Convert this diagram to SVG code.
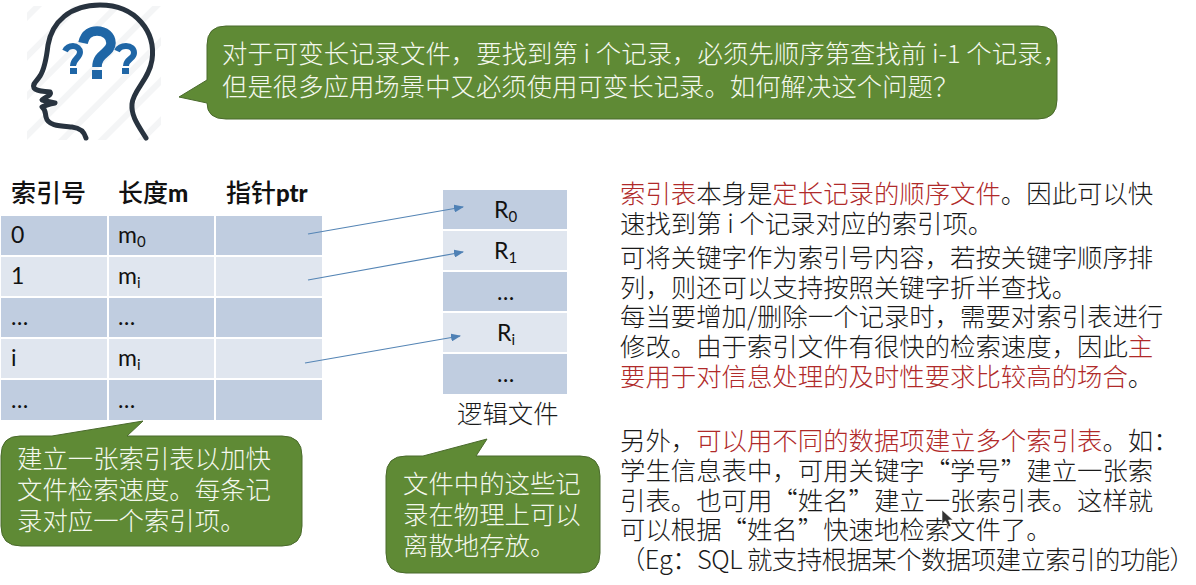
<svg xmlns="http://www.w3.org/2000/svg" width="1196" height="585" viewBox="0 0 1196 585">
<style>
text{font-family:"Noto Sans CJK SC","Liberation Sans",sans-serif;font-weight:300}
.b{fill:#5f8a35;stroke:#4a6a2c;stroke-width:1}
.w{fill:#f4f8ee;font-size:25.4px}
.t{fill:#1a1a1a;font-size:25.4px}
.r{fill:#b02a2a}
.h{fill:#111;font-size:25px;font-weight:500}
.hb{font-family:Lato,"Liberation Sans",sans-serif;font-weight:900;font-size:24px}
.c{font-family:Lato,"Liberation Sans",sans-serif;font-size:23px;fill:#111;font-weight:400}
.s{font-size:15px}
.d{fill:#c0cde0}.l{fill:#e0e6ef}
.a{fill:none;stroke:#5585b5;stroke-width:1.2;marker-end:url(#m)}
</style>
<defs>
<marker id="m" markerWidth="10" markerHeight="8" refX="9" refY="4" orient="auto" markerUnits="userSpaceOnUse"><path d="M0 0L10 4L0 8z" fill="#4f81b5"/></marker>
<pattern id="st" width="28" height="28" patternUnits="userSpaceOnUse" patternTransform="rotate(-45)"><rect width="28" height="6" fill="#eceef0"/></pattern>
</defs>
<rect width="1196" height="585" fill="#fff"/>
<g id="head">
<rect x="27" y="6" width="134" height="134" fill="url(#st)" opacity=".6"/>
<path d="M146 138C138 125 131 116 132 104C133 90 149 80 152 60C156 32 136 5 100 5C70 5 52 22 48 45C46 62 44 70 40 76C36 82 32 84 34 88C37 92 45 91 50 92C52 95 47 96 42 100C46 101 50 102 55 103C50 104 46 105 42 107C46 110 45 113 46 117C48 126 60 126 72 127C80 128 84 131 86 138" fill="none" stroke="#28333f" stroke-width="5" stroke-linecap="round" stroke-linejoin="round"/>
<g fill="none" stroke="#1f66a6">
<path d="M83 43C85 33 92 31 97 31C105 31 111 36 111 43C111 53 97 53 97 67" stroke-width="9.500"/>
<path d="M65 51C67 47 70 46 73 46C77 46 80 49 80 52C80 58 73 59 73 66" stroke-width="6"/>
<path d="M117 51C119 47 122 46 126 46C131 46 134 49 134 53C134 59 126 59 126 66" stroke-width="6"/>
</g>
<g fill="#1f66a6"><rect x="92" y="70" width="10" height="9"/><rect x="70" y="68" width="7" height="6"/><rect x="122" y="68" width="7" height="6"/></g>
</g>
<g id="question-bubble">
<path class="b" d="M226 26H1038Q1057 26 1057 45V100Q1057 119 1038 119H226Q207 119 207 103L179 97L207 80V45Q207 26 226 26z"/>
<text class="w" x="222" y="63" textLength="846" lengthAdjust="spacing">对于可变长记录文件，要找到第 i 个记录，必须先顺序第查找前 i-1 个记录，</text>
<text class="w" x="222" y="96">但是很多应用场景中又必须使用可变长记录。如何解决这个问题？</text>
</g>
<g id="index-table">
<text class="h" x="11" y="202">索引号</text>
<text class="h" x="118" y="202">长度<tspan class="hb">m</tspan></text>
<text class="h" x="226" y="202">指针<tspan class="hb">ptr</tspan></text>
<rect class="d" x="1" y="216" width="106" height="39"/><rect class="d" x="109" y="216" width="105" height="39"/><rect class="d" x="216" y="216" width="106" height="39"/>
<rect class="l" x="1" y="257" width="106" height="39"/><rect class="l" x="109" y="257" width="105" height="39"/><rect class="l" x="216" y="257" width="106" height="39"/>
<rect class="d" x="1" y="298" width="106" height="39"/><rect class="d" x="109" y="298" width="105" height="39"/><rect class="d" x="216" y="298" width="106" height="39"/>
<rect class="l" x="1" y="339" width="106" height="39"/><rect class="l" x="109" y="339" width="105" height="39"/><rect class="l" x="216" y="339" width="106" height="39"/>
<rect class="d" x="1" y="380" width="106" height="40"/><rect class="d" x="109" y="380" width="105" height="40"/><rect class="d" x="216" y="380" width="106" height="40"/>
<text class="c" x="11" y="243">0</text><text class="c" x="118" y="243">m<tspan class="s" dy="4">0</tspan></text>
<text class="c" x="11" y="284">1</text><text class="c" x="118" y="284">m<tspan class="s" dy="4">i</tspan></text>
<text class="c" x="11" y="325">…</text><text class="c" x="118" y="325">…</text>
<text class="c" x="11" y="366">i</text><text class="c" x="118" y="366">m<tspan class="s" dy="4">i</tspan></text>
<text class="c" x="11" y="408">…</text><text class="c" x="118" y="408">…</text>
</g>
<g id="logic-file">
<rect class="d" x="443" y="190" width="124" height="39"/>
<rect class="l" x="443" y="231" width="124" height="39"/>
<rect class="d" x="443" y="272" width="124" height="39"/>
<rect class="l" x="443" y="313" width="124" height="39"/>
<rect class="d" x="443" y="354" width="124" height="40"/>
<text class="c" x="494" y="218">R<tspan class="s" dy="4">0</tspan></text>
<text class="c" x="494" y="259">R<tspan class="s" dy="4">1</tspan></text>
<text class="c" x="497" y="300">…</text>
<text class="c" x="497" y="341">R<tspan class="s" dy="4">i</tspan></text>
<text class="c" x="497" y="382">…</text>
<text class="t" x="457" y="423">逻辑文件</text>
</g>
<g id="connectors">
<line class="a" x1="308" y1="234" x2="463" y2="207"/>
<line class="a" x1="308" y1="280" x2="463" y2="252"/>
<line class="a" x1="305" y1="363" x2="460" y2="336"/>
</g>
<g id="index-bubble">
<path class="b" d="M20 436H52L143 421L127 436H282Q302 436 302 456V526Q302 546 282 546H21Q1 546 1 526V456Q1 436 20 436z"/>
<text class="w" x="17" y="468">建立一张索引表以加快</text>
<text class="w" x="17" y="499">文件检索速度。每条记</text>
<text class="w" x="17" y="530">录对应一个索引项。</text>
</g>
<g id="file-bubble">
<path class="b" d="M406 456H423L487 439L476 456H580Q600 456 600 476V553Q600 573 580 573H406Q386 573 386 553V476Q386 456 406 456z"/>
<text class="w" x="403" y="493">文件中的这些记</text>
<text class="w" x="403" y="524">录在物理上可以</text>
<text class="w" x="403" y="555">离散地存放。</text>
</g>
<g id="notes">
<text class="t" x="620" y="203"><tspan class="r">索引表</tspan>本身是<tspan class="r">定长记录的顺序文件</tspan>。因此可以快</text>
<text class="t" x="620" y="233">速找到第 i 个记录对应的索引项。</text>
<text class="t" x="620" y="267">可将关键字作为索引号内容，若按关键字顺序排</text>
<text class="t" x="620" y="297">列，则还可以支持按照关键字折半查找。</text>
<text class="t" x="620" y="326">每当要增加/删除一个记录时，需要对索引表进行</text>
<text class="t" x="620" y="356">修改。由于索引文件有很快的检索速度，因此<tspan class="r">主</tspan></text>
<text class="t" x="620" y="386"><tspan class="r">要用于对信息处理的及时性要求比较高的场合</tspan>。</text>
<text class="t" x="620" y="450">另外，<tspan class="r">可以用不同的数据项建立多个索引表</tspan>。如：</text>
<text class="t" x="620" y="480">学生信息表中，可用关键字“学号”建立一张索</text>
<text class="t" x="620" y="510">引表。也可用“姓名”建立一张索引表。这样就</text>
<text class="t" x="620" y="539">可以根据“姓名”快速地检索文件了。</text>
<text class="t" x="620" y="569" textLength="575" lengthAdjust="spacing">（Eg：SQL 就支持根据某个数据项建立索引的功能）</text>
</g>
<path id="cursor" d="M942 510V524L945.500 521L948.500 527L951 526L948.500 520H953z" fill="#333" stroke="#fff" stroke-width=".6"/>
</svg>
